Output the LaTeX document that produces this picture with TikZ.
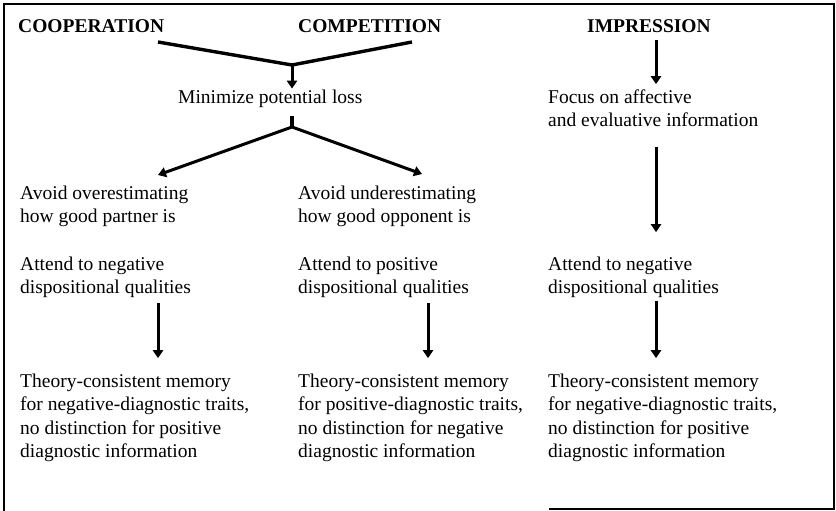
\documentclass[tikz,border=0pt]{standalone}
\usepackage{fontspec}
\setmainfont{Liberation Serif}
\usetikzlibrary{arrows.meta}
\tikzset{
    txt/.style={anchor=north west, align=left, inner sep=0pt, font=\fontsize{19.5}{23.3}\selectfont},
    head/.style={anchor=base west, inner sep=0pt, font=\fontsize{19.5}{23.3}\selectfont\bfseries},
    arr/.style={-{Triangle[length=8pt,width=10pt]}, line width=3pt},
    bar/.style={line width=3.4pt},
}
\begin{document}
\begin{tikzpicture}[x=1pt, y=-1pt]
            \useasboundingbox (0, 0) rectangle (836, 511);
            \draw[line width=1.4pt] (549, 509) -- (834, 509) -- (834, 4) -- (4, 4) -- (4, 511);

            \node[head] (coop) at (18, 33) {COOPERATION};
            \node[head] (comp) at (298, 33) {COMPETITION};
            \node[head] (impr) at (587, 33) {IMPRESSION};

            \node[txt] (loss) at (178, 89.7) {Minimize potential loss};
            \node[txt] (focus) at (548, 89.7) {Focus on affective\\and evaluative information};

            \node[txt] (over) at (20, 185.7) {Avoid overestimating\\how good partner is};
            \node[txt] (under) at (298, 185.7) {Avoid underestimating\\how good opponent is};

            \node[txt] (attneg) at (20, 256.7) {Attend to negative\\dispositional qualities};
            \node[txt] (attpos) at (298, 256.7) {Attend to positive\\dispositional qualities};
            \node[txt] (attimp) at (548, 256.7) {Attend to negative\\dispositional qualities};

            \node[txt] (memcoop) at (20, 373.7) {Theory-consistent memory\\for negative-diagnostic traits,\\no distinction for positive\\diagnostic information};
            \node[txt] (memcomp) at (298, 373.7) {Theory-consistent memory\\for positive-diagnostic traits,\\no distinction for negative\\diagnostic information};
            \node[txt] (memimp) at (548, 373.7) {Theory-consistent memory\\for negative-diagnostic traits,\\no distinction for positive\\diagnostic information};

            % joins and forks
            \coordinate (vleft) at (158, 42);
            \coordinate (vright) at (412, 42);
            \coordinate (vjoin) at (292, 65);
            \coordinate (fork) at (292, 127);
            \coordinate (tipcoop) at (158, 175);
            \coordinate (tipcomp) at (422, 174);
            \coordinate (xcoop) at (158, 0);
            \coordinate (xcomp) at (428, 0);
            \coordinate (ximp) at (656, 0);

            \draw[bar, line join=miter] (vleft) -- (vjoin) -- (vright);
            \draw[arr, shorten >=1pt] (vjoin) -- (vjoin |- loss.north);
            \draw[bar, shorten <=8pt] (vjoin |- loss.south) -- (fork);
            \draw[{Triangle[length=8pt,width=10pt]}-{Triangle[length=8pt,width=10pt]}, line width=3pt, line join=miter] (tipcoop) -- (fork) -- (tipcomp);

            \draw[arr, shorten <=4.5pt, shorten >=15.5pt] (xcoop |- attneg.south) -- (xcoop |- memcoop.north);
            \draw[arr, shorten <=4.5pt, shorten >=15.5pt] (xcomp |- attpos.south) -- (xcomp |- memcomp.north);

            \draw[arr, shorten <=7pt, shorten >=5.5pt] (ximp |- impr.south) -- (ximp |- focus.north);
            \draw[arr, shorten <=19.5pt, shorten >=24.5pt] (ximp |- focus.south) -- (ximp |- attimp.north);
            \draw[arr, shorten <=2.5pt, shorten >=15.5pt] (ximp |- attimp.south) -- (ximp |- memimp.north);
\end{tikzpicture}
\end{document}
